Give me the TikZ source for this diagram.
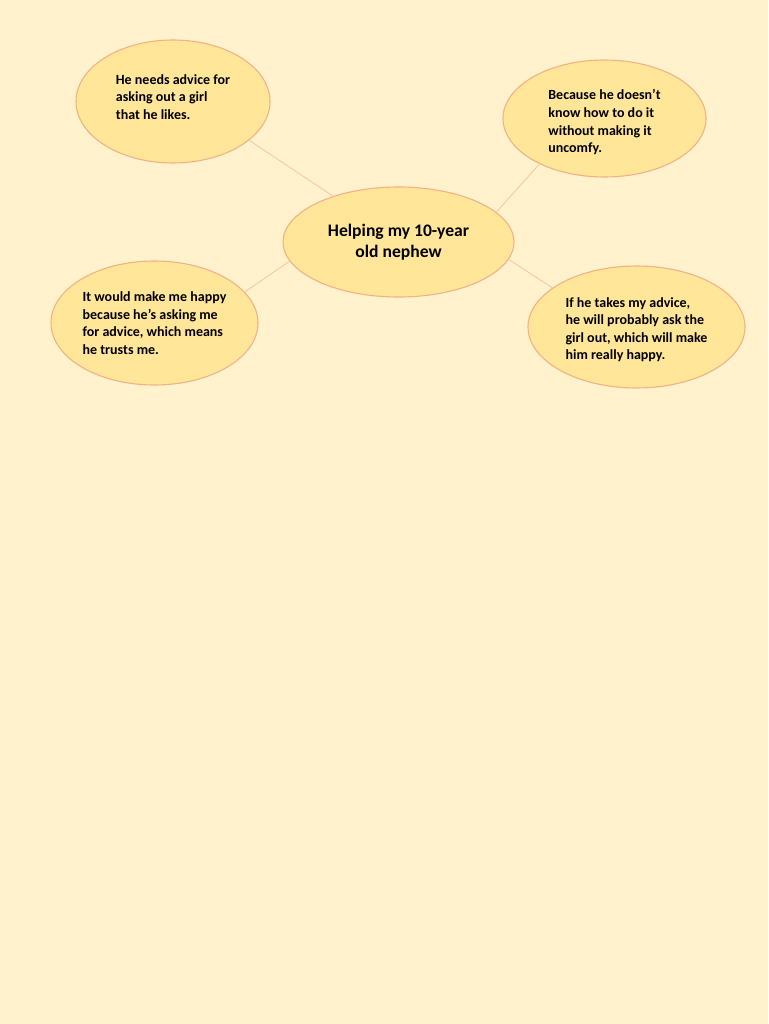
\documentclass[tikz,border=0pt]{standalone}
\usepackage{fontspec}
\setmainfont{Carlito}
\usetikzlibrary{shapes.geometric}
\definecolor{bg}{HTML}{FFF2CC}
\definecolor{efill}{HTML}{FFE699}
\definecolor{eline}{HTML}{F4B183}
\definecolor{cline}{HTML}{F6C6A0}
\begin{document}
\begin{tikzpicture}[x=1pt,y=-1pt,
  bubble/.style={ellipse,draw=eline,fill=efill,line width=1.1pt,inner sep=0pt,
    align=left,font=\bfseries\fontsize{14}{17.6}\selectfont,text=black},
  link/.style={draw=cline,line width=0.8pt}]
\fill[bg] (0,0) rectangle (768,1024);
\useasboundingbox (0,0) rectangle (768,1024);
\node[bubble,minimum width=231pt,minimum height=110pt,align=center,
  font=\bfseries\fontsize{17.6}{21}\selectfont] (c) at (398.5,242) {Helping my 10-year\\old nephew};
\node[bubble,minimum width=194pt,minimum height=123pt] (tl) at (173,101.5)
  {He needs advice for\\asking out a girl\\that he likes.\rule[-9pt]{0pt}{1pt}};
\node[bubble,minimum width=203pt,minimum height=117pt] (tr) at (604.5,118.5)
  {\rule{0pt}{18pt}Because he doesn’t\\know how to do it\\without making it\\uncomfy.};
\node[bubble,minimum width=207pt,minimum height=124pt] (l) at (154.5,323)
  {It would make me happy\\because he’s asking me\\for advice, which means\\he trusts me.};
\node[bubble,minimum width=217pt,minimum height=122pt] (r) at (636.5,327)
  {\rule{0pt}{15pt}If he takes my advice,\\he will probably ask the\\girl out, which will make\\him really happy.};
\draw[link] (tl.-27) -- (c.145);
\draw[link] (tr.215) -- (c.17);
\draw[link] (l.19) -- (c.190);
\draw[link] (c.-9) -- (r.155);
\end{tikzpicture}
\end{document}
